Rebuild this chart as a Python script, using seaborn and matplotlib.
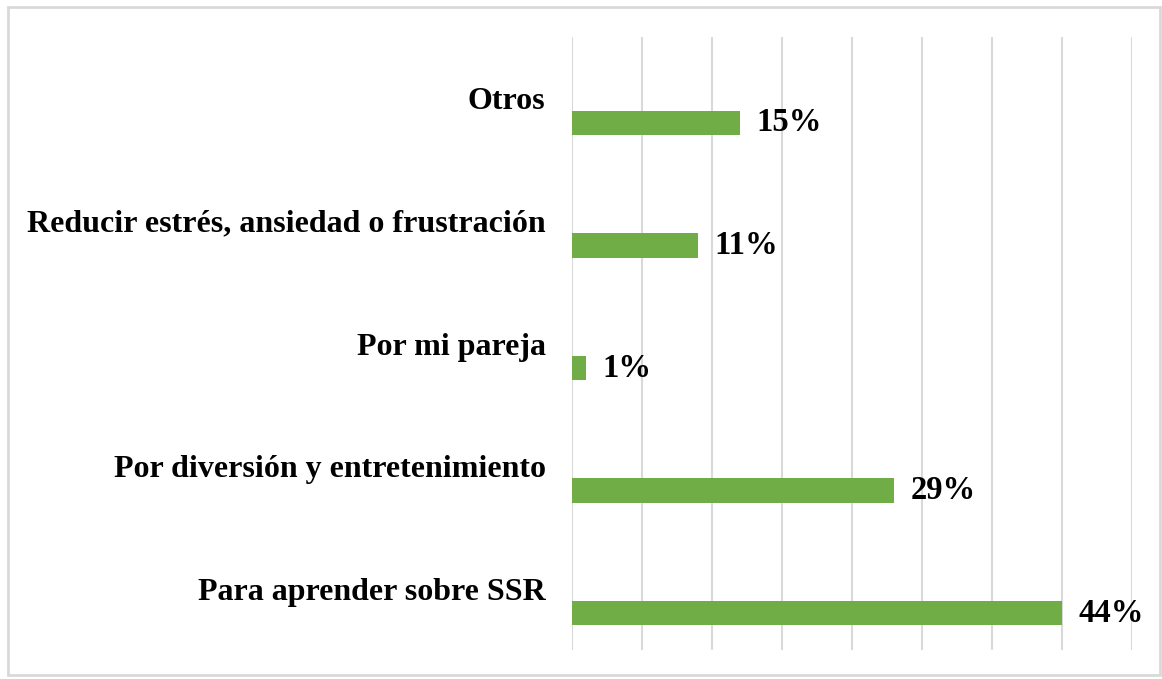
import pandas as pd
import matplotlib.pyplot as plt
import seaborn as sns
from matplotlib.patches import Rectangle

# Data (counts, axis gridlines every 10)
categories = ["Otros",
              "Reducir estrés, ansiedad o frustración",
              "Por mi pareja",
              "Por diversión y entretenimiento",
              "Para aprender sobre SSR"]
counts = [24, 18, 2, 46, 70]
pct_labels = ["15%", "11%", "1%", "29%", "44%"]

green = "#70AD47"
grid_gray = "#D9D9D9"

# Excel-style clustered chart: an empty series above the real one
df = pd.DataFrame({
    "categoria": categories * 2,
    "serie": ["vacio"] * len(categories) + ["valor"] * len(categories),
    "valor": [0] * len(categories) + counts,
})

sns.set_theme(style="white")
plt.rcParams['font.family'] = ['Liberation Serif', 'DejaVu Serif']

fig = plt.figure(figsize=(11.62, 6.79), dpi=100)
W, H = 1162, 679
ax = fig.add_axes([572 / W, 1 - 650 / H, (1132 - 572) / W, (650 - 37) / H])

sns.barplot(data=df, y="categoria", x="valor", hue="serie",
            hue_order=["vacio", "valor"], order=categories,
            palette=[green, green], saturation=1, width=0.8, gap=0.5,
            linewidth=0, legend=False, ax=ax)

ax.set_xlim(0, 80)
ax.set_xticks(range(0, 81, 10))
ax.set_xticklabels([])
ax.grid(axis="x", color=grid_gray, linewidth=1.5)
ax.grid(axis="y", visible=False)
ax.set_axisbelow(True)
for s in ax.spines.values():
    s.set_visible(False)
ax.set_xlabel("")
ax.set_ylabel("")
ax.tick_params(axis="both", length=0)
ax.tick_params(axis="y", pad=19)
for lbl in ax.get_yticklabels():
    lbl.set_fontsize(23)
    lbl.set_fontweight("bold")
    lbl.set_color("black")

# data labels on the visible series
ax.bar_label(ax.containers[1], labels=pct_labels, padding=12,
             fontsize=23.5, fontweight="bold", color="black")

# light border around the whole chart
fig.patches.append(Rectangle((8 / W, 1 - 675 / H), (1160 - 8) / W, (675 - 7) / H,
                             transform=fig.transFigure, fill=False,
                             edgecolor=grid_gray, linewidth=2))

fig.savefig("out.png", dpi=100)
